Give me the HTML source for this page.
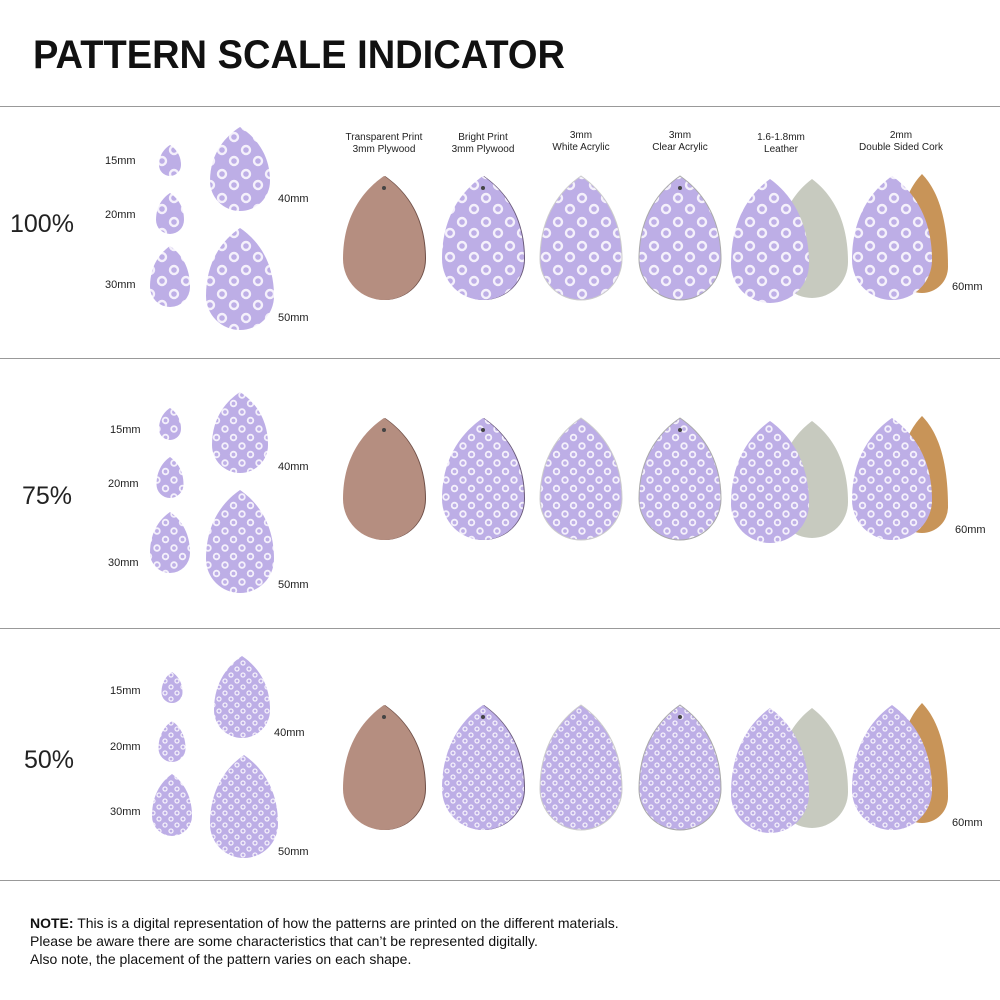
<!DOCTYPE html>
<html><head><meta charset="utf-8">
<style>
body{margin:0;background:#fff;width:1000px;height:1000px;overflow:hidden;font-family:"Liberation Sans",sans-serif}
svg{position:absolute;left:0;top:0}
</style></head><body>
<svg id="s" width="1000" height="1000" viewBox="0 0 1000 1000" xmlns="http://www.w3.org/2000/svg">
<defs>
<pattern id="p1" width="24" height="24" patternUnits="userSpaceOnUse">
<rect width="24" height="24" fill="#bdaee6"/>
<circle cx="6" cy="6" r="4" fill="none" stroke="#f4f0fb" stroke-width="2.4"/>
<circle cx="18" cy="17" r="4" fill="none" stroke="#f4f0fb" stroke-width="2.4"/>
</pattern>
<pattern id="p2" width="17" height="17" patternUnits="userSpaceOnUse">
<rect width="17" height="17" fill="#bdaee6"/>
<circle cx="4" cy="4" r="2.8" fill="none" stroke="#f4f0fb" stroke-width="1.8"/>
<circle cx="12.5" cy="12.5" r="2.8" fill="none" stroke="#f4f0fb" stroke-width="1.8"/>
</pattern>
<pattern id="p3" width="12" height="12" patternUnits="userSpaceOnUse">
<rect width="12" height="12" fill="#bdaee6"/>
<circle cx="3" cy="3" r="2" fill="none" stroke="#f4f0fb" stroke-width="1.3"/>
<circle cx="9" cy="9" r="2" fill="none" stroke="#f4f0fb" stroke-width="1.3"/>
</pattern>
</defs>
<text x="33" y="68" font-size="40" font-weight="bold" fill="#111" textLength="532" lengthAdjust="spacingAndGlyphs">PATTERN SCALE INDICATOR</text>
<g stroke="#999" stroke-width="1"><line x1="0" y1="106.5" x2="1000" y2="106.5"/><line x1="0" y1="358.5" x2="1000" y2="358.5"/><line x1="0" y1="628.5" x2="1000" y2="628.5"/><line x1="0" y1="880.5" x2="1000" y2="880.5"/></g>
<g font-size="10" fill="#222" text-anchor="middle">
<text x="384" y="140">Transparent Print</text><text x="384" y="152">3mm Plywood</text>
<text x="483" y="140">Bright Print</text><text x="483" y="152">3mm Plywood</text>
<text x="581" y="138">3mm</text><text x="581" y="150">White Acrylic</text>
<text x="680" y="138">3mm</text><text x="680" y="150">Clear Acrylic</text>
<text x="781" y="140">1.6-1.8mm</text><text x="781" y="152">Leather</text>
<text x="901" y="138">2mm</text><text x="901" y="150">Double Sided Cork</text>
</g>
<g font-size="25" fill="#222">
<text x="10" y="232">100%</text><text x="22" y="504">75%</text><text x="24" y="768">50%</text>
</g>
<g font-size="11" fill="#222">
<text x="105" y="164">15mm</text><text x="105" y="218">20mm</text><text x="105" y="288">30mm</text><text x="278" y="202">40mm</text><text x="278" y="321">50mm</text><text x="952" y="290">60mm</text>
<text x="110" y="433">15mm</text><text x="108" y="487">20mm</text><text x="108" y="566">30mm</text><text x="278" y="470">40mm</text><text x="278" y="588">50mm</text><text x="955" y="533">60mm</text>
<text x="110" y="694">15mm</text><text x="110" y="750">20mm</text><text x="110" y="815">30mm</text><text x="274" y="736">40mm</text><text x="278" y="855">50mm</text><text x="952" y="826">60mm</text>
</g>
<g font-size="14" fill="#111">
<text x="30" y="928"><tspan font-weight="bold">NOTE:</tspan> This is a digital representation of how the patterns are printed on the different materials.</text>
<text x="30" y="946">Please be aware there are some characteristics that can’t be represented digitally.</text>
<text x="30" y="964">Also note, the placement of the pattern varies on each shape.</text>
</g>
<g id="d"></g>
</svg>
<script>
var g=document.getElementById('d'),NS='http://www.w3.org/2000/svg';
function drop(cx,top,w,h,fill,stroke){
 var r=w/2,cy=top+h-r;
 var d='M'+cx+','+top+' C'+(cx+w*0.22)+','+(top+h*0.1)+' '+(cx+r)+','+(top+h*0.3)+' '+(cx+r)+','+cy+
 ' A'+r+','+r+' 0 0 1 '+(cx-r)+','+cy+' C'+(cx-r)+','+(top+h*0.3)+' '+(cx-w*0.22)+','+(top+h*0.1)+' '+cx+','+top+'Z';
 var p=document.createElementNS(NS,'path');p.setAttribute('d',d);p.setAttribute('fill',fill);
 if(stroke){p.setAttribute('stroke',stroke);p.setAttribute('stroke-width','1');}
 g.appendChild(p);
}
function hole(x,y){var c=document.createElementNS(NS,'circle');c.setAttribute('cx',x);c.setAttribute('cy',y);c.setAttribute('r',2);c.setAttribute('fill','#444');g.appendChild(c);}
var rows=[
 {p:'url(#p1)',small:[[170,145,22,31],[170,193,28,41],[170,246,40,61],[240,127,60,84],[240,228,68,102]],t:176,h:124},
 {p:'url(#p2)',small:[[170,408,22,32],[170,457,27,41],[170,512,40,61],[240,392,56,81],[240,490,68,103]],t:418,h:122},
 {p:'url(#p3)',small:[[172,672,21,31],[172,721,27,41],[172,774,40,62],[242,656,56,82],[244,755,68,103]],t:705,h:125}
];
rows.forEach(function(r){
 r.small.forEach(function(s){drop(s[0],s[1],s[2],s[3],r.p);});
 var t=r.t,h=r.h;
 drop(385,t,82,h,'#705048');drop(384,t,82,h,'#b58e80');hole(384,t+12);
 drop(484,t,82,h,'#6a5a7a');drop(483,t,82,h,r.p);hole(483,t+12);
 drop(581,t,82,h,r.p,'#ccc');
 drop(680,t,82,h,r.p,'#aaa');hole(680,t+12);
 drop(812,t+3,72,h-5,'#c7cabf');drop(770,t+3,78,h,r.p);
 drop(922,t-2,52,h-5,'#c89458');drop(892,t,80,h,r.p);
});
</script>
</body></html>
